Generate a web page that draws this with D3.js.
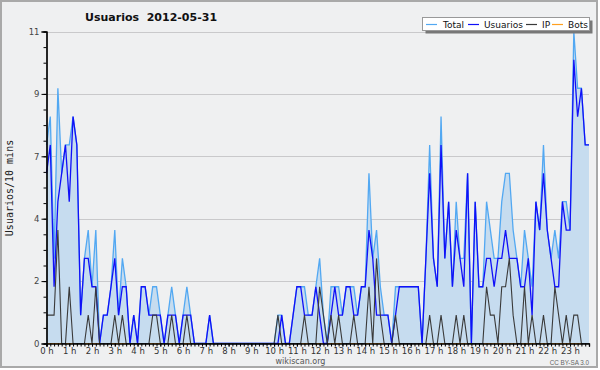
<!DOCTYPE html>
<html>
<head>
<meta charset="utf-8">
<script src="https://cdn.jsdelivr.net/npm/d3@7/dist/d3.min.js"></script>
<style>
  body { margin: 0; background: #fff; }
  #chart { width: 600px; height: 370px; }
</style>
</head>
<body>
<div id="chart"></div>
<script>
// hour labels on the x axis (one every 6 slots of 10 minutes)
const hourLabels = ['0 h','1 h','2 h','3 h','4 h','5 h','6 h','7 h','8 h','9 h','10 h','11 h',
  '12 h','13 h','14 h','15 h','16 h','17 h','18 h','19 h','20 h','21 h','22 h','23 h'];

// y ticks of the original chart (max / 5) and the rounded labels it shows
const yTickValues = [0, 2.2, 4.4, 6.6, 8.8, 11];
const yTickLabels = ['0', '2', '4', '7', '9', '11'];

const seriesNames = ['Total', 'Usuarios', 'IP', 'Bots'];

// users per 10 minutes, 144 slots from 00:00 to 23:50
const total = [
  7,8,3,9,6,7,7,8,7,1, 3,4,2,4,0,1,1,2,4,1, 3,2,0,1,0,2,2,1,2,2,
  1,0,1,2,1,0,1,2,1,0, 0,0,0,1,0,0,0,0,0,0, 0,0,0,0,0,0,0,0,0,0,
  0,1,1,0,0,1,2,2,2,1, 1,2,3,1,0,2,2,2,1,2, 2,2,1,2,2,6,3,4,2,1,
  1,0,2,2,2,2,2,2,2,0, 3,7,3,2,8,3,5,2,5,3, 3,6,0,5,2,2,5,4,3,3,
  5,6,6,4,3,2,4,3,2,5, 4,7,4,3,4,3,5,5,4,11, 9,9,7,7
];
const usuarios = [
  6,7,2,5,6,7,5,8,7,1, 3,3,2,2,0,1,1,2,3,1, 2,2,0,1,0,2,2,1,1,1,
  1,0,1,1,1,0,1,1,1,0, 0,0,0,1,0,0,0,0,0,0, 0,0,0,0,0,0,0,0,0,0,
  0,0,1,0,0,1,2,2,1,1, 1,2,1,0,0,1,2,1,1,2, 2,1,1,2,2,4,3,1,1,1,
  1,0,1,2,2,2,2,2,2,0, 3,6,3,2,7,3,5,2,4,3, 2,6,0,5,2,2,3,3,2,3,
  3,4,3,3,3,2,2,3,1,5, 4,6,4,3,2,2,5,4,4,10, 8,9,7,7
];
const ip = [
  1,1,1,4,0,0,2,0,0,0, 0,1,0,2,0,0,0,0,1,0, 1,0,0,0,0,0,0,0,1,1,
  0,0,0,1,0,0,0,1,0,0, 0,0,0,0,0,0,0,0,0,0, 0,0,0,0,0,0,0,0,0,0,
  0,1,0,0,0,0,0,0,1,0, 0,0,2,1,0,1,0,1,0,0, 0,1,0,0,0,2,0,3,1,0,
  0,0,1,0,0,0,0,0,0,0, 0,1,0,0,1,0,0,0,1,0, 1,0,0,0,0,0,2,1,1,0,
  2,2,3,1,0,0,2,0,1,0, 0,1,0,0,2,1,0,1,0,1, 1,0,0,0
];
const bots = [
  0,0,0,0,0,0,0,0,0,0, 0,0,0,0,0,0,0,0,0,0, 0,0,0,0,0,0,0,0,0,0,
  0,0,0,0,0,0,0,0,0,0, 0,0,0,0,0,0,0,0,0,0, 0,0,0,0,0,0,0,0,0,0,
  0,0,0,0,0,0,0,0,0,0, 0,0,0,0,0,0,0,0,0,0, 0,0,0,0,0,0,0,0,0,0,
  0,0,0,0,0,0,0,0,0,0, 0,0,0,0,0,0,0,0,0,0, 0,0,0,0,0,0,0,0,0,0,
  0,0,0,0,0,0,0,0,0,0, 0,0,0,0,0,0,0,0,0,0, 0,0,0,0
];

const colors = { Total: '#52a8f2', Usuarios: '#1010f8', IP: '#3a3a3a', Bots: '#ffa020' };
const fillColor = '#c6dcef';
const font = 'DejaVu Sans, Verdana, sans-serif';

const svg = d3.select('#chart').append('svg')
  .attr('width', 600)
  .attr('height', 370);

// frame and background
svg.append('rect')
  .attr('x', 1).attr('y', 1)
  .attr('width', 596).attr('height', 366)
  .attr('fill', '#eff0f1')
  .attr('stroke', '#a9a9a9')
  .attr('stroke-width', 2);

const xScale = d3.scaleLinear().domain([0, 143]).range([46.5, 589]);
const yScale = d3.scaleLinear().domain([0, 11]).range([343.5, 31.5]);

// horizontal grid
svg.append('g')
  .selectAll('line')
  .data(yTickValues.slice(1))
  .join('line')
  .attr('x1', xScale(0)).attr('x2', xScale(143))
  .attr('y1', d => Math.round(yScale(d)) + 0.5)
  .attr('y2', d => Math.round(yScale(d)) + 0.5)
  .attr('stroke', '#c9c9cb');

// area under the total line
const area = d3.area()
  .x((d, i) => xScale(i))
  .y0(yScale(0))
  .y1(d => yScale(d));

svg.append('path')
  .datum(total)
  .attr('fill', fillColor)
  .attr('d', area);

const line = d3.line()
  .x((d, i) => xScale(i))
  .y(d => yScale(d));

const series = [
  { name: 'Bots', values: bots, width: 1.2 },
  { name: 'Total', values: total, width: 1.3 },
  { name: 'Usuarios', values: usuarios, width: 1.3 },
  { name: 'IP', values: ip, width: 1.1 }
];

series.forEach(s => {
  svg.append('path')
    .datum(s.values)
    .attr('fill', 'none')
    .attr('stroke', colors[s.name])
    .attr('stroke-width', s.width)
    .attr('stroke-linejoin', 'miter')
    .attr('d', line);
});

// y axis, major ticks with labels and minor ticks
const yAxis = d3.axisLeft(yScale)
  .tickValues(yTickValues)
  .tickFormat((d, i) => yTickLabels[i])
  .tickSize(5)
  .tickPadding(2);

const yMinor = d3.axisLeft(yScale)
  .tickValues(d3.range(0, 45).map(k => k * 0.55).filter(v => v <= 11.001))
  .tickFormat('')
  .tickSize(3);

const gyMinor = svg.append('g').attr('transform', 'translate(46.5,0)').call(yMinor);
const gy = svg.append('g').attr('transform', 'translate(46.5,0)').call(yAxis);

// x axis, one tick per 10 minutes, a label every hour
const xMinor = d3.axisBottom(xScale)
  .tickValues(d3.range(0, 144))
  .tickFormat('')
  .tickSize(3);

const xAxis = d3.axisBottom(xScale)
  .tickValues(hourLabels.map((h, i) => i * 6))
  .tickFormat((d, i) => hourLabels[i])
  .tickSize(3)
  .tickPadding(1);

const gxMinor = svg.append('g').attr('transform', 'translate(0,343.5)').call(xMinor);
const gx = svg.append('g').attr('transform', 'translate(0,343.5)').call(xAxis);

[gy, gyMinor, gx, gxMinor].forEach(g => {
  g.select('.domain').attr('stroke', '#000').attr('stroke-width', 1.2);
  g.selectAll('.tick line').attr('stroke', '#000');
});
gy.selectAll('text').attr('font-family', font).attr('font-size', 8.5).attr('fill', '#444');
gx.selectAll('text').attr('font-family', font).attr('font-size', 8.5).attr('fill', '#333');

// title
svg.append('text')
  .attr('x', 85).attr('y', 20.5)
  .attr('font-family', font)
  .attr('font-weight', 'bold')
  .attr('font-size', 11)
  .attr('fill', '#111')
  .text('Usuarios\u00a0\u00a02012-05-31');

// y axis title
svg.append('text')
  .attr('transform', 'translate(13,188) rotate(-90)')
  .attr('text-anchor', 'middle')
  .attr('font-family', 'DejaVu Sans Mono, monospace')
  .attr('font-size', 10)
  .attr('fill', '#222')
  .text('Usuarios/10 mins');

// legend box with shadow
const legend = svg.append('g');
legend.append('rect')
  .attr('x', 425.5).attr('y', 20.5).attr('width', 167).attr('height', 13)
  .attr('fill', '#777');
legend.append('rect')
  .attr('x', 422.5).attr('y', 17.5).attr('width', 167).attr('height', 13)
  .attr('fill', '#fff')
  .attr('stroke', '#999');

const legendPos = [
  { line: 426, text: 443 },
  { line: 468, text: 484 },
  { line: 526, text: 542 },
  { line: 552, text: 568 }
];
seriesNames.forEach((name, i) => {
  const p = legendPos[i];
  legend.append('line')
    .attr('x1', p.line).attr('x2', p.line + 11)
    .attr('y1', 24.5).attr('y2', 24.5)
    .attr('stroke', colors[name])
    .attr('stroke-width', 1.2);
  legend.append('text')
    .attr('x', p.text).attr('y', 27.8)
    .attr('font-family', font)
    .attr('font-size', 9)
    .attr('fill', '#111')
    .text(name);
});

// footer
svg.append('text')
  .attr('x', 300.5).attr('y', 363.5)
  .attr('text-anchor', 'middle')
  .attr('font-family', font)
  .attr('font-size', 8)
  .attr('fill', '#555')
  .text('wikiscan.org');

svg.append('text')
  .attr('x', 589).attr('y', 364.5)
  .attr('text-anchor', 'end')
  .attr('font-family', 'Liberation Sans, Arial, sans-serif')
  .attr('font-size', 6.3)
  .attr('fill', '#666')
  .text('CC BY-SA 3.0');
</script>
</body>
</html>
